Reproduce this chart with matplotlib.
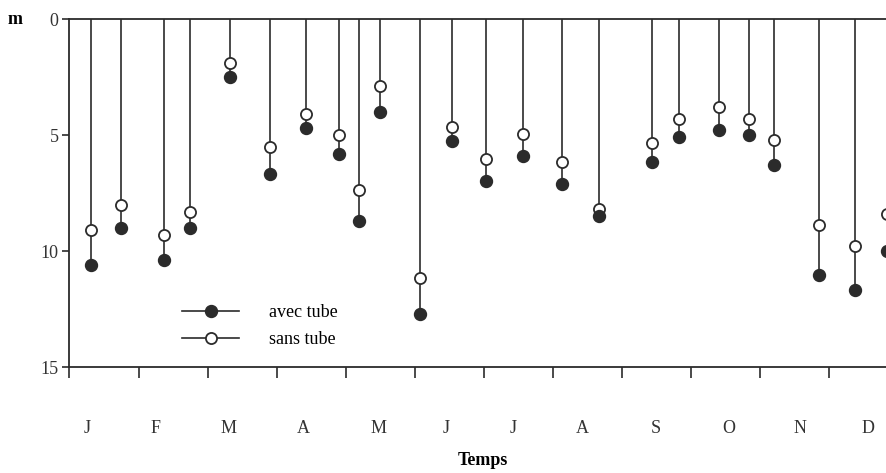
import matplotlib.pyplot as plt
from matplotlib.lines import Line2D

plt.rcParams['font.family'] = ['Liberation Serif', 'DejaVu Serif']

# position of each reading, in months from 1 January
dates = [0.31, 0.75, 1.37, 1.74, 2.32, 2.90, 3.43, 3.90, 4.20, 4.49, 5.07, 5.54,
         6.03, 6.57, 7.14, 7.67, 8.44, 8.83, 9.40, 9.84, 10.21, 10.85, 11.38, 11.84]
# depth (m)
avec_tube = [10.6, 9.0, 10.4, 9.0, 2.5, 6.7, 4.7, 5.8, 8.7, 4.0, 12.7, 5.25,
             7.0, 5.9, 7.1, 8.5, 6.15, 5.1, 4.8, 5.0, 6.3, 11.05, 11.7, 10.0]
sans_tube = [9.1, 8.0, 9.3, 8.3, 1.9, 5.5, 4.1, 5.0, 7.35, 2.9, 11.15, 4.65,
             6.05, 4.95, 6.15, 8.2, 5.35, 4.3, 3.8, 4.3, 5.2, 8.9, 9.8, 8.4]

mois = ['J', 'F', 'M', 'A', 'M', 'J', 'J', 'A', 'S', 'O', 'N', 'D']
mois_pos = [0.25, 1.24, 2.30, 3.38, 4.48, 5.45, 6.43, 7.43, 8.49, 9.55, 10.58, 11.56]

col = '#2b2b2b'

fig = plt.figure(figsize=(8.87, 4.73), dpi=100)
ax = fig.add_axes([69.5 / 887, 1 - 367 / 473, 1 - 69.5 / 887, (367 - 19) / 473])

ax.vlines(dates, 0, avec_tube, color=col, lw=1.2, zorder=2)
ax.plot(dates, sans_tube, 'o', ms=8.0, mfc='white', mec=col, mew=1.3, ls='none', zorder=3)
ax.plot(dates, avec_tube, 'o', ms=8.6, mfc=col, mec=col, ls='none', zorder=3)

ax.set_xlim(0, 11.84)
ax.set_ylim(15, 0)

for s in ['left', 'bottom', 'top']:
    ax.spines[s].set_color(col)
    ax.spines[s].set_linewidth(1.3)
ax.spines['right'].set_visible(False)

ax.set_yticks([0, 5, 10, 15])
ax.tick_params(axis='y', direction='out', length=5, width=1.2, color=col,
               labelsize=13, pad=3, labelcolor='#333333')
ax.set_xticks(range(12))
ax.set_xticklabels([])
ax.set_xticks(mois_pos, minor=True)
ax.set_xticklabels(mois, minor=True)
ax.tick_params(axis='x', which='major', direction='out', length=8, width=1.2, color=col)
ax.tick_params(axis='x', which='minor', length=0, pad=38, labelsize=13, labelcolor='#333333')

fig.text(15 / 887, 1 - 19 / 473, 'm', fontsize=13, fontweight='bold', ha='center', va='center')
fig.text(483 / 887, 1 - 460 / 473, 'Temps', fontsize=13, fontweight='bold', ha='center', va='center')

h1 = Line2D([], [], color=col, lw=1.2, marker='o', ms=8.6, mfc=col, mec=col)
h2 = Line2D([], [], color=col, lw=1.2, marker='o', ms=8.0, mfc='white', mec=col, mew=1.3)
ax.legend([h1, h2], ['avec tube', 'sans tube'], loc='center left',
          bbox_to_anchor=(0.118, 0.117), frameon=False, handlelength=3.15,
          handletextpad=1.66, fontsize=13, labelspacing=0.56)

fig.savefig('out.png', dpi=100)
